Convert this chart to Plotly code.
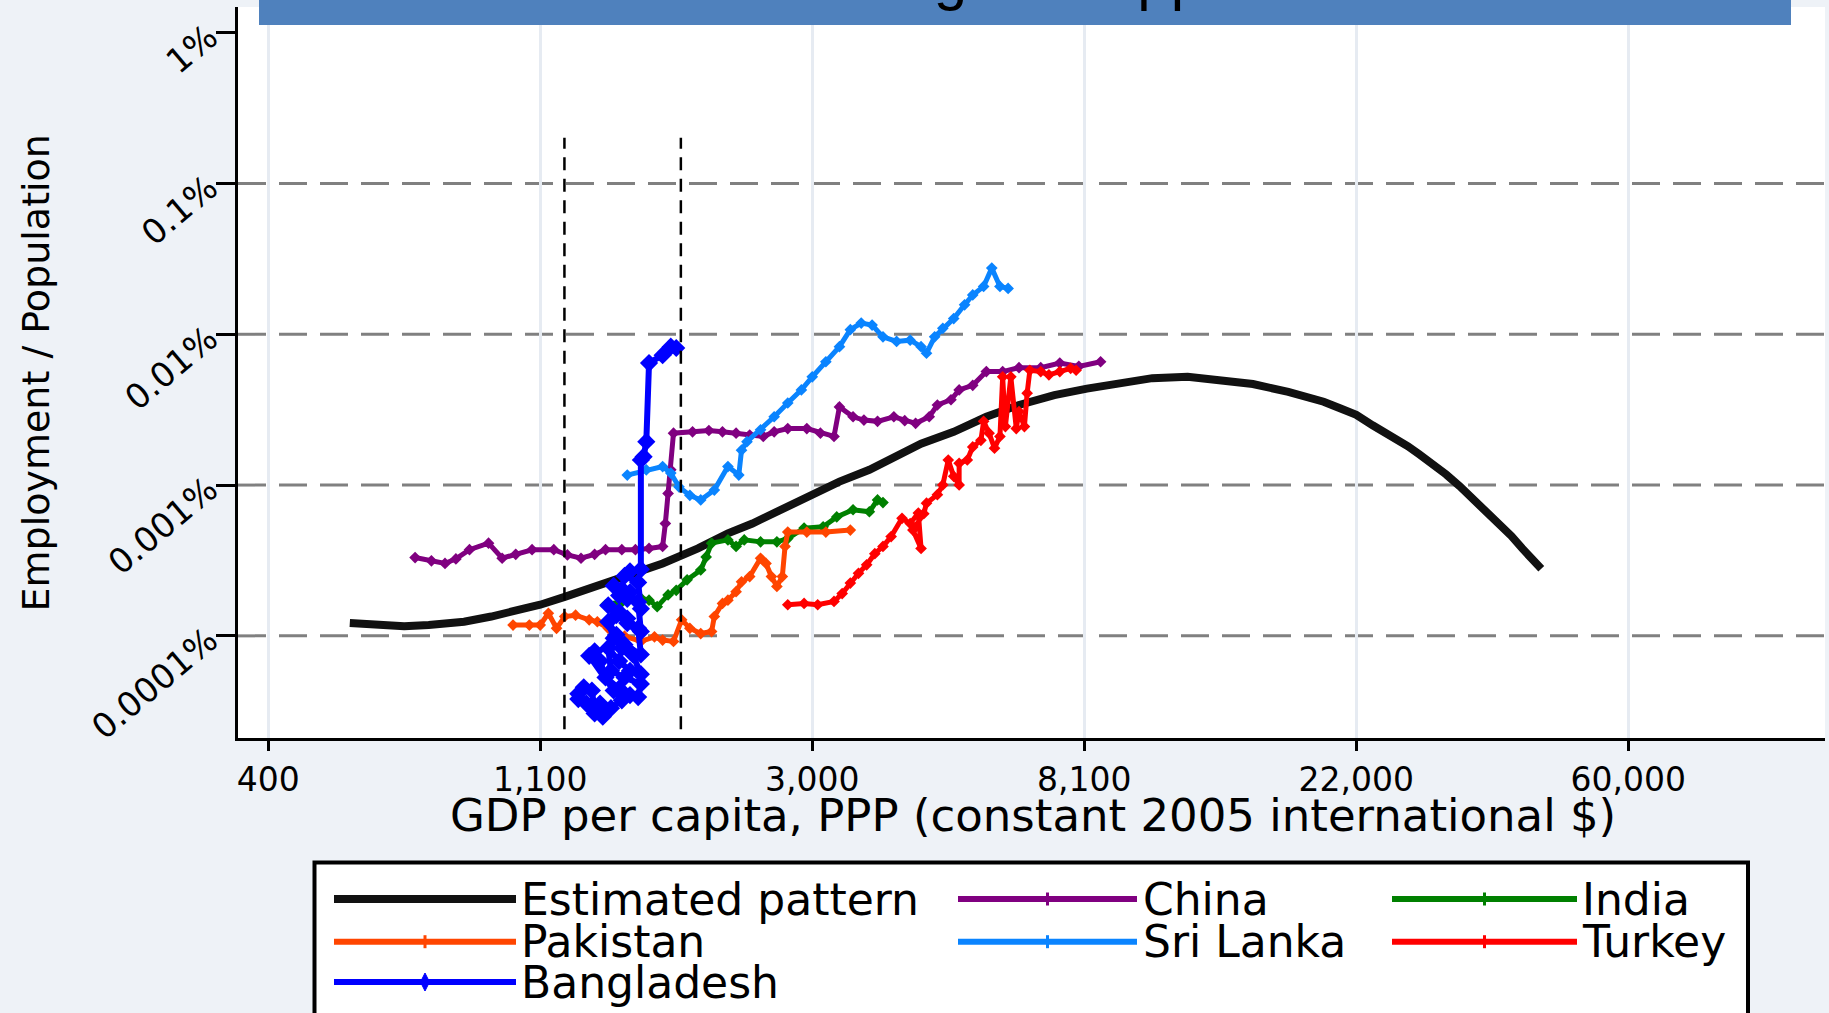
import numpy as np
import plotly.graph_objects as go

# ---------------- data (natural logs) ----------------
# x: ln(GDP per capita, PPP, constant 2005 int. $); y: ln(employment / population)
x_tick_vals = [6, 7, 8, 9, 10, 11]
x_tick_text = ["400", "1,100", "3,000", "8,100", "22,000", "60,000"]
y_tick_share = [0.01, 0.001, 0.0001, 0.00001, 0.000001]
y_tick_text = ["1%", "0.1%", "0.01%", "0.001%", "0.0001%"]
ref_line_share = [0.001, 0.0001, 0.00001, 0.000001]
threshold_lngdp = [7.089, 7.517]
threshold_span = [-15.24, -6.21]

est_lngdp = [6.30, 6.41, 6.50, 6.59, 6.72, 6.82, 6.91, 7.00, 7.09, 7.18, 7.27, 7.37, 7.45, 7.58,
             7.69, 7.78, 7.91, 8.00, 8.10, 8.21, 8.31, 8.40, 8.52, 8.64, 8.76, 8.89, 9.01, 9.13,
             9.25, 9.38, 9.50, 9.62, 9.75, 9.82, 9.88, 9.94, 10.00, 10.06, 10.12, 10.19, 10.23,
             10.28, 10.33, 10.38, 10.43, 10.48, 10.52, 10.57, 10.61, 10.66, 10.68]
est_lnshare = [-13.62, -13.65, -13.67, -13.65, -13.60, -13.52, -13.44, -13.34, -13.22, -13.09,
               -12.96, -12.81, -12.71, -12.48, -12.25, -12.10, -11.84, -11.64, -11.46, -11.28,
               -11.08, -10.88, -10.70, -10.47, -10.29, -10.14, -10.04, -9.95, -9.88, -9.86, -9.90,
               -9.97, -10.09, -10.16, -10.24, -10.34, -10.44, -10.60, -10.74, -10.92, -11.04,
               -11.19, -11.35, -11.53, -11.72, -11.92, -12.08, -12.29, -12.48, -12.70, -12.79]

china_lngdp = [6.54, 6.60, 6.65, 6.69, 6.74, 6.81, 6.86, 6.91, 6.97, 7.05, 7.10, 7.15, 7.20, 7.24,
               7.30, 7.35, 7.40, 7.45, 7.46, 7.47, 7.48, 7.49, 7.56, 7.62, 7.67, 7.72, 7.77, 7.82,
               7.86, 7.91, 7.98, 8.03, 8.08, 8.10, 8.15, 8.19, 8.24, 8.30, 8.34, 8.38, 8.43, 8.46,
               8.51, 8.54, 8.59, 8.64, 8.70, 8.76, 8.84, 8.91, 8.98, 9.06]
china_lnshare = [-12.62, -12.67, -12.71, -12.64, -12.50, -12.40, -12.63, -12.57, -12.50, -12.50,
                 -12.58, -12.63, -12.57, -12.50, -12.50, -12.50, -12.48, -12.45, -12.10, -11.64,
                 -11.28, -10.72, -10.70, -10.68, -10.70, -10.72, -10.75, -10.77, -10.70, -10.65,
                 -10.65, -10.72, -10.77, -10.32, -10.47, -10.52, -10.54, -10.47, -10.53, -10.57,
                 -10.47, -10.29, -10.21, -10.06, -9.99, -9.78, -9.78, -9.72, -9.72, -9.65, -9.70,
                 -9.63]

india_lngdp = [7.24, 7.30, 7.37, 7.40, 7.43, 7.47, 7.50, 7.54, 7.59, 7.61, 7.63, 7.69, 7.72, 7.75,
               7.81, 7.87, 7.91, 7.97, 8.04, 8.09, 8.15, 8.21, 8.24, 8.26]
india_lnshare = [-13.34, -13.30, -13.24, -13.27, -13.37, -13.19, -13.12, -12.96, -12.81, -12.61,
                 -12.40, -12.35, -12.45, -12.35, -12.38, -12.38, -12.33, -12.17, -12.15, -12.00,
                 -11.89, -11.92, -11.74, -11.78]

pak_lngdp = [6.90, 6.96, 7.00, 7.03, 7.06, 7.09, 7.13, 7.18, 7.21, 7.25, 7.31, 7.37, 7.42, 7.45,
             7.49, 7.52, 7.55, 7.59, 7.63, 7.64, 7.67, 7.69, 7.72, 7.74, 7.77, 7.81, 7.83, 7.85,
             7.87, 7.89, 7.90, 7.91, 7.98, 8.05, 8.14]
pak_lnshare = [-13.65, -13.65, -13.65, -13.47, -13.70, -13.52, -13.50, -13.57, -13.60, -13.70,
               -13.82, -13.90, -13.83, -13.88, -13.90, -13.57, -13.70, -13.78, -13.75, -13.52,
               -13.32, -13.27, -13.14, -12.99, -12.91, -12.63, -12.71, -12.91, -13.06, -12.91,
               -12.45, -12.23, -12.23, -12.23, -12.20]

lka_lngdp = [7.32, 7.39, 7.45, 7.48, 7.51, 7.55, 7.59, 7.64, 7.69, 7.73, 7.74, 7.76, 7.81, 7.86,
             7.91, 7.96, 8.00, 8.05, 8.10, 8.14, 8.18, 8.22, 8.26, 8.31, 8.36, 8.40, 8.42, 8.45,
             8.48, 8.52, 8.56, 8.59, 8.63, 8.66, 8.69, 8.72]
lka_lnshare = [-11.36, -11.28, -11.23, -11.33, -11.54, -11.67, -11.74, -11.59, -11.23, -11.36,
               -10.98, -10.85, -10.67, -10.47, -10.26, -10.06, -9.86, -9.63, -9.40, -9.14, -9.04,
               -9.07, -9.25, -9.32, -9.30, -9.40, -9.50, -9.25, -9.12, -8.97, -8.76, -8.61, -8.48,
               -8.20, -8.48, -8.51]

tur_lngdp = [7.91, 7.97, 8.02, 8.08, 8.11, 8.14, 8.17, 8.20, 8.23, 8.26, 8.29, 8.33, 8.36, 8.39,
             8.40, 8.37, 8.41, 8.42, 8.46, 8.48, 8.50, 8.52, 8.54, 8.54, 8.57, 8.59, 8.62, 8.63,
             8.65, 8.67, 8.69, 8.70, 8.71, 8.73, 8.75, 8.76, 8.78, 8.79, 8.80, 8.84, 8.87, 8.91,
             8.95, 8.97]
tur_lnshare = [-13.34, -13.32, -13.34, -13.29, -13.17, -13.01, -12.86, -12.73, -12.56, -12.45,
               -12.30, -12.02, -12.10, -11.94, -12.48, -12.20, -11.95, -11.79, -11.66, -11.51,
               -11.13, -11.38, -11.51, -11.18, -11.13, -10.93, -10.83, -10.54, -10.72, -10.95,
               -10.77, -9.86, -10.62, -9.86, -10.65, -10.39, -10.62, -10.11, -9.76, -9.78, -9.83,
               -9.78, -9.73, -9.76]

bgd_lngdp = [7.14, 7.17, 7.14, 7.16, 7.19, 7.20, 7.23, 7.20, 7.22, 7.26,
             7.30, 7.27, 7.18, 7.20, 7.22, 7.24, 7.29, 7.33, 7.36, 7.37,
             7.31, 7.26, 7.25, 7.29, 7.33, 7.37, 7.34, 7.30, 7.27, 7.25,
             7.28, 7.31, 7.37, 7.36, 7.32, 7.28, 7.25, 7.29, 7.32, 7.37,
             7.36, 7.32, 7.29, 7.27, 7.30, 7.33, 7.37, 7.36, 7.31, 7.33,
             7.37, 7.37, 7.38, 7.39, 7.40, 7.45, 7.48, 7.50]
bgd_lnshare = [-14.70, -14.85, -14.78, -14.60, -14.65, -14.95, -15.05, -15.00, -14.85, -14.92,
               -14.80, -14.65, -14.12, -14.05, -14.20, -14.45, -14.62, -14.72, -14.75, -14.55,
               -14.45, -14.35, -14.00, -14.20, -14.35, -14.40, -14.10, -14.00, -13.85, -13.60,
               -13.80, -13.95, -14.10, -13.70, -13.62, -13.50, -13.35, -13.45, -13.55, -13.75,
               -13.30, -13.25, -13.20, -13.05, -13.10, -13.15, -13.40, -13.00, -12.90, -12.83,
               -12.80, -11.13, -11.08, -10.85, -9.65, -9.53, -9.40, -9.42]

series_names = ["Estimated pattern", "China", "India", "Pakistan", "Sri Lanka", "Turkey", "Bangladesh"]
series_x = [est_lngdp, china_lngdp, india_lngdp, pak_lngdp, lka_lngdp, tur_lngdp, bgd_lngdp]
series_y = [est_lnshare, china_lnshare, india_lnshare, pak_lnshare, lka_lnshare, tur_lnshare, bgd_lnshare]

# ---------------- styles ----------------
colors = ["#111111", "#800080", "#008000", "#FF4500", "#0A84FF", "#FF0000", "#0000FF"]
line_w = [8, 5, 5, 5, 5, 5, 6]
marker_size = [0, 9, 9, 9, 9, 9, 14]

FONT = "DejaVu Sans"
W, H = 1829, 1013
ML, MR, MT, MB = 238, 4, 7, 275
PW, PH = W - ML - MR, H - MT - MB


def px_x(X):
    return (X - ML) / PW


def px_y(Y):
    return 1 - (Y - MT) / PH


fig = go.Figure()
for name, xs, ys, c, lw, ms in zip(series_names, series_x, series_y, colors, line_w, marker_size):
    fig.add_trace(go.Scatter(
        x=xs, y=ys, name=name, showlegend=False, hoverinfo="skip",
        mode="lines+markers" if ms else "lines",
        line=dict(color=c, width=lw),
        marker=dict(symbol="diamond", size=ms, color=c, line=dict(width=0)),
    ))

shapes = []
for s in ref_line_share:
    v = float(np.log(s))
    shapes.append(dict(type="line", xref="paper", yref="y", x0=0, x1=1, y0=v, y1=v,
                       line=dict(color="#808080", width=3, dash="28px,13px"), layer="between"))
for t in threshold_lngdp:
    shapes.append(dict(type="line", xref="x", yref="y", x0=t, x1=t,
                       y0=threshold_span[0], y1=threshold_span[1],
                       line=dict(color="black", width=2.5, dash="13px,8.5px"), layer="above"))

# title bar (text runs off the top of the page)
shapes.append(dict(type="rect", xref="paper", yref="paper", x0=px_x(259), x1=px_x(1791),
                   y0=px_y(25), y1=px_y(-12), fillcolor="#4F81BD", line=dict(width=0), layer="above"))

# legend box
shapes.append(dict(type="rect", xref="paper", yref="paper", x0=px_x(314.5), x1=px_x(1748),
                   y0=px_y(1045), y1=px_y(862.5), fillcolor="white",
                   line=dict(color="black", width=4), layer="above"))

leg_cols_line = [(334, 516), (958, 1137), (1392, 1577)]
leg_cols_text = [519, 1141, 1580]
leg_rows = [899, 941.7, 982]
annotations = []
for i, name in enumerate(series_names):
    r, c = divmod(i, 3)
    x0, x1 = leg_cols_line[c]
    yy = px_y(leg_rows[r])
    shapes.append(dict(type="line", xref="paper", yref="paper", x0=px_x(x0), x1=px_x(x1), y0=yy, y1=yy,
                       line=dict(color=colors[i], width=8 if i == 0 else 6), layer="above"))
    xm = px_x((x0 + x1) / 2)
    if name == "Bangladesh":
        shapes.append(dict(type="path", xref="paper", yref="paper", xsizemode="pixel", ysizemode="pixel",
                           xanchor=xm, yanchor=yy, path="M0,9 L4.5,0 L0,-9 L-4.5,0 Z",
                           fillcolor=colors[i], line=dict(color=colors[i], width=1), layer="above"))
    elif i > 0:
        shapes.append(dict(type="line", xref="paper", yref="paper", xsizemode="pixel", ysizemode="pixel",
                           xanchor=xm, yanchor=yy, x0=0, x1=0, y0=-6.5, y1=6.5,
                           line=dict(color=colors[i], width=3), layer="above"))
    annotations.append(dict(text=name, xref="paper", yref="paper", x=px_x(leg_cols_text[c]), y=yy,
                            xanchor="left", yanchor="middle", showarrow=False,
                            font=dict(family=FONT, size=44, color="black")))

# title (only its descenders are visible inside the bar)
annotations.append(dict(text="Clothing and Apparel", xref="paper", yref="paper", x=px_x(1025), y=px_y(14.2),
                        xanchor="center", yanchor="bottom", showarrow=False,
                        font=dict(family="Liberation Sans, Arial", size=60, color="black")))
# axis titles
annotations.append(dict(text="Employment / Population", xref="paper", yref="paper", x=px_x(35), y=0.5,
                        xanchor="center", yanchor="middle", textangle=-90, showarrow=False,
                        font=dict(family=FONT, size=38, color="black")))
annotations.append(dict(text="GDP per capita, PPP (constant 2005 international $)", xref="paper",
                        yref="paper", x=px_x(1033), y=px_y(787), xanchor="center", yanchor="top",
                        showarrow=False, font=dict(family=FONT, size=45, color="black")))

fig.update_layout(
    width=W, height=H, autosize=False,
    margin=dict(l=ML, r=MR, t=MT, b=MB, pad=0),
    paper_bgcolor="#EEF2F7", plot_bgcolor="white",
    showlegend=False,
    font=dict(family=FONT, color="black"),
    shapes=shapes, annotations=annotations,
    xaxis=dict(range=[5.889, 11.723], tickvals=x_tick_vals, ticktext=x_tick_text,
               showline=True, linecolor="black", linewidth=3, ticks="outside", ticklen=10,
               tickwidth=3, tickcolor="black", showgrid=True, gridcolor="#E6EBF2", gridwidth=3,
               zeroline=False, tickfont=dict(family=FONT, size=33, color="black")),
    yaxis=dict(range=[-15.375, -4.213], tickvals=[float(np.log(v)) for v in y_tick_share],
               ticktext=y_tick_text, tickangle=-40,
               showline=True, linecolor="black", linewidth=3, ticks="outside", ticklen=19,
               tickwidth=3, tickcolor="black", showgrid=False, zeroline=False,
               tickfont=dict(family=FONT, size=34, color="black")),
)

fig.write_html("out.html", config={"displayModeBar": False},
               post_script="document.body.style.margin='0';document.body.style.overflow='hidden';")
